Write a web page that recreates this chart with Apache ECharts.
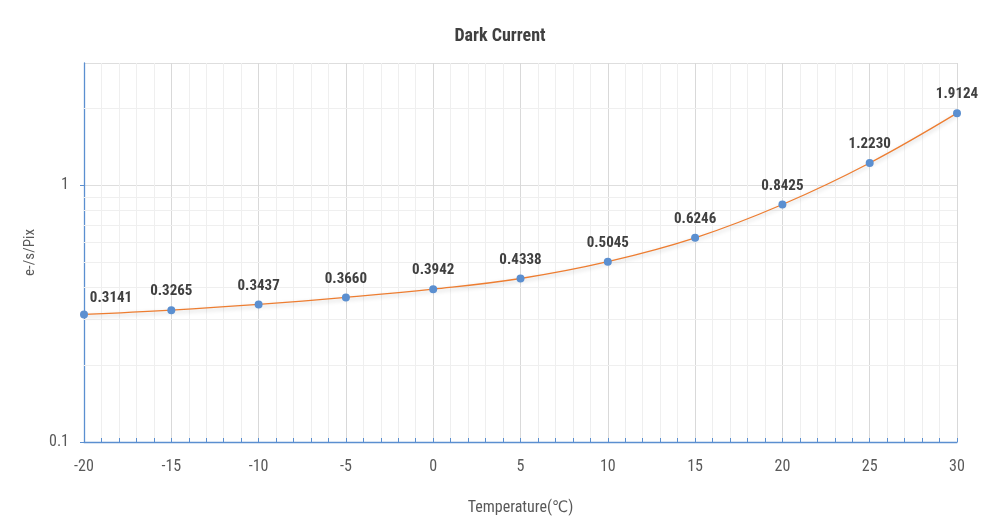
<!DOCTYPE html>
<html><head><meta charset="utf-8">
<script src="https://cdn.jsdelivr.net/npm/echarts@6/dist/echarts.min.js"></script>
<style>html,body{margin:0;padding:0;background:#fff}#c{width:1000px;height:527px}</style>
</head><body><div id="c"></div>
<script>
const temperatures = [-20, -15, -10, -5, 0, 5, 10, 15, 20, 25, 30];
const darkCurrent = [0.3141, 0.3265, 0.3437, 0.3660, 0.3942, 0.4338, 0.5045, 0.6246, 0.8425, 1.2230, 1.9124];
const labelText = ['0.3141','0.3265','0.3437','0.3660','0.3942','0.4338','0.5045','0.6246','0.8425','1.2230','1.9124'];
const yMinorGrid = [0.2, 0.3, 0.4, 0.5, 0.6, 0.7, 0.8, 0.9, 2];
const FONT = '"Roboto Condensed", "Liberation Sans Narrow", "DejaVu Sans Condensed", Lato, sans-serif';

const chart = echarts.init(document.getElementById('c'));
const data = temperatures.map((t, i) => {
  const d = { value: [t, darkCurrent[i]], lbl: labelText[i] };
  if (i === 0) d.label = { offset: [27, 2] };
  return d;
});
chart.setOption({
  animation: false,
  title: {
    text: 'Dark Current', left: 'center', top: 22,
    textStyle: { fontFamily: FONT, fontSize: 18, fontWeight: 'bold', color: '#404040' }
  },
  grid: { left: 84, right: 43, top: 63, bottom: 85 },
  xAxis: {
    type: 'value', min: -20, max: 30, interval: 5,
    name: 'Temperature(℃)', nameLocation: 'middle', nameGap: 58,
    nameTextStyle: { fontFamily: FONT, fontSize: 16, color: '#595959' },
    axisLine: { onZero: false, lineStyle: { color: '#5b8fd0', width: 1.3 } },
    axisTick: { show: true, inside: true, length: 4, lineStyle: { color: '#5b8fd0' } },
    minorTick: { show: true, splitNumber: 5, length: 4, lineStyle: { color: '#5b8fd0' } },
    axisLabel: { fontFamily: FONT, fontSize: 16, color: '#595959', margin: 17 },
    splitLine: { show: true, lineStyle: { color: '#d9d9d9' } },
    minorSplitLine: { show: true, lineStyle: { color: '#efefef' } }
  },
  yAxis: {
    type: 'log', logBase: 10, min: 0.1, max: 3,
    name: 'e-/s/Pix', nameLocation: 'middle', nameGap: 46, nameRotate: 90,
    nameTextStyle: { fontFamily: FONT, fontSize: 15, color: '#595959' },
    axisLine: { show: true, onZero: false, lineStyle: { color: '#5b8fd0', width: 1.3 } },
    axisTick: { show: true, length: 4, lineStyle: { color: '#5b8fd0' } },
    axisLabel: { fontFamily: FONT, fontSize: 16, color: '#595959', margin: 15, showMaxLabel: false,
      formatter: v => (Math.abs(v - 0.1) < 1e-9 ? '0.1' : (Math.abs(v - 1) < 1e-9 ? '1' : '')) },
    splitLine: { show: true, lineStyle: { color: '#dedede' } }
  },
  series: [{
    type: 'line', data: [], z: 1, silent: true,
    markLine: {
      z: 1, silent: true, symbol: ['none', 'none'], label: { show: false },
      lineStyle: { color: '#efefef', type: 'solid', width: 1 },
      data: yMinorGrid.map(v => ({ yAxis: v }))
    }
  }, {
    type: 'line', data: data, smooth: 0.4,
    symbol: 'circle', symbolSize: 8,
    itemStyle: { color: '#5b8fd0' },
    lineStyle: { color: '#ed7d31', width: 1.3, shadowColor: 'rgba(0,0,0,0.22)', shadowBlur: 4, shadowOffsetY: 2 },
    label: {
      show: true, position: 'top', distance: 7,
      fontFamily: FONT, fontSize: 15, fontWeight: 'bold', color: '#404040',
      formatter: p => p.data.lbl
    },
    z: 3
  }]
});
</script></body></html>
